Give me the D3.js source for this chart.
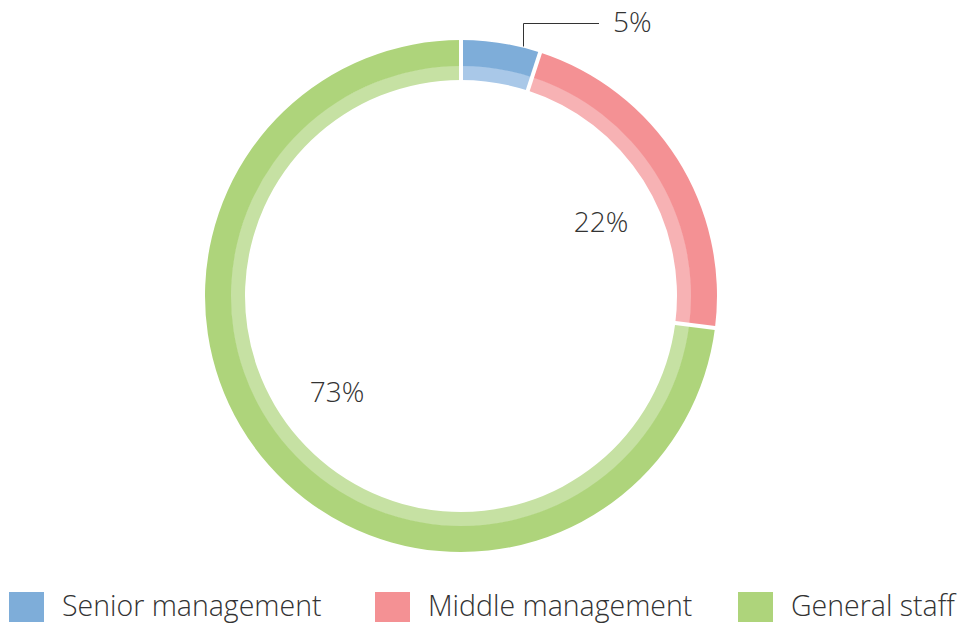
<!DOCTYPE html>
<html><head><meta charset="utf-8">
<script src="https://cdn.jsdelivr.net/npm/d3@7"></script>
<style>body{margin:0;background:#fff}svg{display:block}text{font-family:"Open Sans",sans-serif;font-weight:300;fill:#333}</style>
</head><body><svg id="c" width="957" height="626"></svg>
<script>
const categories = ["Senior management", "Middle management", "General staff"];
const values = [5, 22, 73];
const labels = ["5%", "22%", "73%"];
const darkColors = ["#7eadd9", "#f49194", "#aed47b"];
const lightColors = ["#a9c8e8", "#f7b2b4", "#c6e1a3"];

const svg = d3.select("#c");
const cx = 461, cy = 296;
const rOuter = 256, rMid = 230, rInner = 216;
const g = svg.append("g").attr("transform", `translate(${cx},${cy})`);
const pie = d3.pie().sort(null).value(d => d)(values);
const arcDark = d3.arc().innerRadius(rMid).outerRadius(rOuter);
const arcLight = d3.arc().innerRadius(rInner).outerRadius(rMid + 0.5);

g.selectAll("path.l").data(pie).join("path").attr("class","l")
  .attr("d", arcLight).attr("fill", (d,i) => lightColors[i]);
g.selectAll("path.d").data(pie).join("path").attr("class","d")
  .attr("d", arcDark).attr("fill", (d,i) => darkColors[i]);
// separators
g.selectAll("line.sep").data(pie).join("line").attr("class","sep")
  .attr("x1", d => Math.sin(d.startAngle) * (rInner - 2))
  .attr("y1", d => -Math.cos(d.startAngle) * (rInner - 2))
  .attr("x2", d => Math.sin(d.startAngle) * (rOuter + 2))
  .attr("y2", d => -Math.cos(d.startAngle) * (rOuter + 2))
  .attr("stroke", "#fff").attr("stroke-width", 4);

// labels
const fs = 28;
// 5% with leader line
const p0 = pie[0];
const la = p0.startAngle + 0.77 * (p0.endAngle - p0.startAngle);
const lx = Math.sin(la) * (rOuter + 1), ly = -Math.cos(la) * (rOuter + 1);
svg.append("path")
  .attr("d", `M${Math.round(cx + lx) + 0.5},${cy + ly} L${Math.round(cx + lx) + 0.5},23.5 L599,23.5`)
  .attr("fill", "none").attr("stroke", "#333").attr("stroke-width", 1);
svg.append("text").attr("x", 613).attr("y", 32).attr("font-size", fs).text(labels[0]);
svg.append("text").attr("x", 601).attr("y", 231.5).attr("text-anchor","middle").attr("font-size", fs).text(labels[1]);
svg.append("text").attr("x", 337).attr("y", 401.5).attr("text-anchor","middle").attr("font-size", fs).text(labels[2]);

// legend
const legX = [9, 375, 738];
const lg = svg.selectAll("g.leg").data(categories).join("g").attr("class","leg")
  .attr("transform", (d,i) => `translate(${legX[i]},592)`);
lg.append("rect").attr("width", 35).attr("height", 30).attr("fill", (d,i) => darkColors[i]);
lg.append("text").attr("x", 53).attr("y", 24).attr("font-size", 28.5).text(d => d);
</script></body></html>
